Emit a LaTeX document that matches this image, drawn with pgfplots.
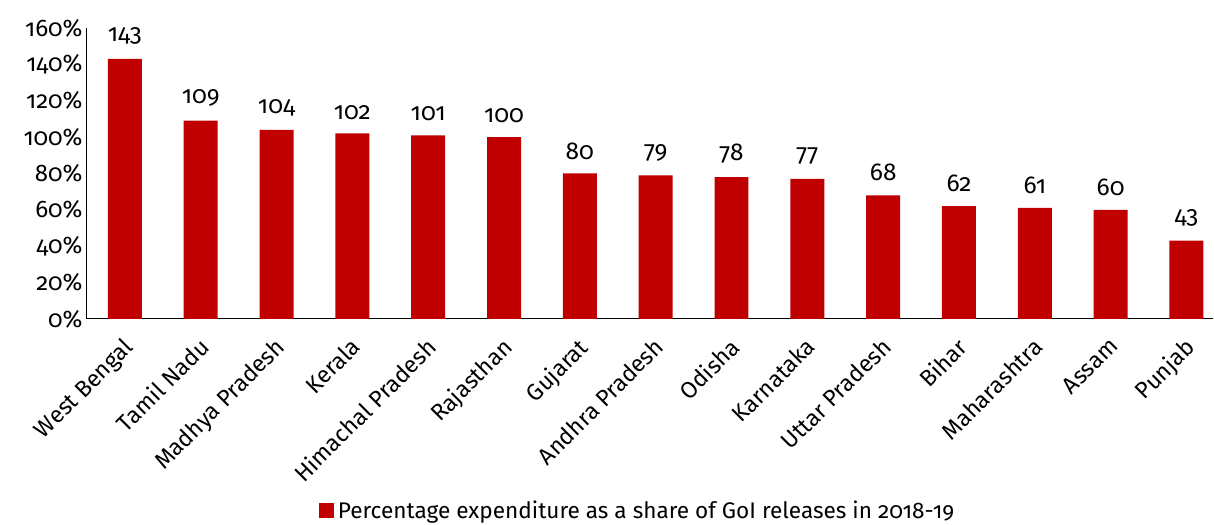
\documentclass[border=0pt]{standalone}
\usepackage{pgfplots}
\pgfplotsset{compat=1.18}
\usepackage{fontspec}
\setmainfont[Numbers=OldStyle]{Fira Sans}
\definecolor{barred}{HTML}{C00000}
\begin{document}
\begin{tikzpicture}
\begin{axis}[
  name=ax,
  scale only axis,
  width=563.25pt, height=145.5pt,
  xmin=-0.5, xmax=14.35,
  ymin=0, ymax=160,
  axis lines*=left,
  axis line style={black, line width=0.5pt},
  ytick={0,20,...,160},
  yticklabels={0\%,20\%,40\%,60\%,80\%,100\%,120\%,140\%,160\%},
  ytick style={draw=none},
  xtick style={draw=none},
  xtick=data,
  xticklabels={West Bengal,Tamil Nadu,Madhya Pradesh,Kerala,Himachal Pradesh,Rajasthan,Gujarat,Andhra Pradesh,Odisha,Karnataka,Uttar Pradesh,Bihar,Maharashtra,Assam,Punjab},
  xticklabel style={rotate=45, anchor=north east, inner sep=2pt, xshift=-2pt, font=\fontsize{11.6}{13}\selectfont},
  yticklabel style={font=\fontsize{12}{13}\selectfont, inner sep=2pt},
  /pgf/number format/assume math mode=true,
  ybar, bar width=17pt,
  nodes near coords,
  nodes near coords style={font=\fontsize{12.2}{13}\selectfont, yshift=3.5pt},
  legend style={at={(0.49,-0.66)}, anchor=center, draw=none, font=\fontsize{11.3}{13}\selectfont},
  legend image code/.code={\fill[barred] (0cm,-0.13cm) rectangle (0.26cm,0.13cm);},
]
\addplot[fill=barred, draw=none] coordinates {
(0,143) (1,109) (2,104) (3,102) (4,101) (5,100) (6,80) (7,79) (8,78) (9,77) (10,68) (11,62) (12,61) (13,60) (14,43)};
\addlegendentry{Percentage expenditure as a share of GoI releases in 2018-19}
\end{axis}
\pgfresetboundingbox
\path[use as bounding box] ([shift={(-43.5pt,-103pt)}]ax.south west) rectangle ([shift={(0.5pt,14pt)}]ax.north east);
\end{tikzpicture}
\end{document}
